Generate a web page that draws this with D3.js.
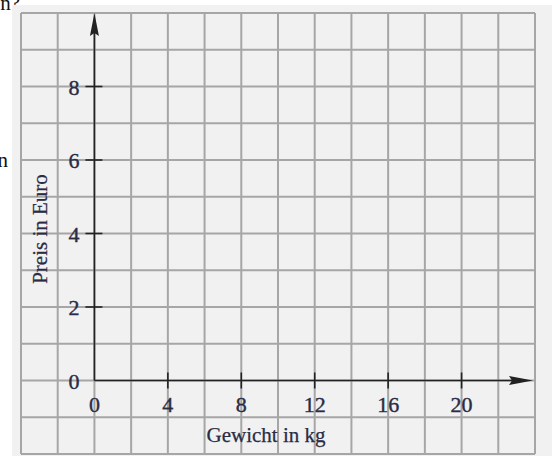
<!DOCTYPE html>
<html>
<head>
<meta charset="utf-8">
<script src="https://cdn.jsdelivr.net/npm/d3@7"></script>
<style>
html,body{margin:0;padding:0;background:#fff;}
svg{display:block;}
text{font-family:"Liberation Serif","DejaVu Serif",serif;}
</style>
</head>
<body>
<svg id="chart" width="552" height="456"></svg>
<script>
const xDomain = [-4, 24];
const yDomain = [-2, 10];
const xTicks = [0, 4, 8, 12, 16, 20];
const yTicks = [0, 2, 4, 6, 8];
const xGridStep = 2;
const yGridStep = 1;
const xTitle = "Gewicht in kg";
const yTitle = "Preis in Euro";

const svg = d3.select("#chart");
const x = d3.scaleLinear().domain(xDomain).range([21, 535]);
const y = d3.scaleLinear().domain(yDomain).range([454, 13]);

// surrounding text fragments
svg.append("text").attr("x", 20).attr("y", 10).attr("text-anchor", "end")
  .attr("font-size", 21).attr("fill", "#111").text("n?");

// panel background
svg.append("rect").attr("x", 12).attr("y", 5).attr("width", 540).attr("height", 451).attr("fill", "#f1f1f1");

svg.append("text").attr("x", 8).attr("y", 167).attr("text-anchor", "end")
  .attr("font-size", 21).attr("fill", "#111").text("n");

// grid
const gx = d3.range(xDomain[0], xDomain[1] + 0.001, xGridStep);
const gy = d3.range(yDomain[0], yDomain[1] + 0.001, yGridStep);
const grid = svg.append("g").attr("stroke", "#a6a6a6").attr("stroke-width", 2);
grid.selectAll("line.v").data(gx).join("line").attr("class", "v")
  .attr("x1", d => x(d)).attr("x2", d => x(d)).attr("y1", y(yDomain[1])).attr("y2", y(yDomain[0]));
grid.selectAll("line.h").data(gy).join("line").attr("class", "h")
  .attr("x1", x(xDomain[0])).attr("x2", x(xDomain[1])).attr("y1", d => y(d)).attr("y2", d => y(d));

const axisColor = "#222";
// axes lines
svg.append("line").attr("x1", x(0)).attr("x2", 512).attr("y1", y(0)).attr("y2", y(0))
  .attr("stroke", axisColor).attr("stroke-width", 1.6);
svg.append("line").attr("x1", x(0)).attr("x2", x(0)).attr("y1", y(0)).attr("y2", 33)
  .attr("stroke", axisColor).attr("stroke-width", 1.6);
// arrowheads
const x0 = x(0), y0 = y(0);
svg.append("path").attr("d", `M533,${y0} L509,${y0-4.5} L512,${y0} L509,${y0+4.5} Z`).attr("fill", axisColor);
svg.append("path").attr("d", `M${x0},13 L${x0-4.5},36 L${x0},33 L${x0+4.5},36 Z`).attr("fill", axisColor);

// ticks
svg.selectAll("line.xt").data(xTicks.filter(d => d !== 0)).join("line").attr("class", "xt")
  .attr("x1", d => x(d)).attr("x2", d => x(d)).attr("y1", y0 - 8).attr("y2", y0 + 8)
  .attr("stroke", axisColor).attr("stroke-width", 1.6);
svg.selectAll("line.yt").data(yTicks.filter(d => d !== 0)).join("line").attr("class", "yt")
  .attr("x1", x0 - 9).attr("x2", x0 + 8).attr("y1", d => y(d)).attr("y2", d => y(d))
  .attr("stroke", axisColor).attr("stroke-width", 1.6);

const labelColor = "#2a2c44";
svg.selectAll("text.xl").data(xTicks).join("text").attr("class", "xl")
  .attr("x", d => x(d)).attr("y", y0 + 31).attr("text-anchor", "middle")
  .attr("font-size", 22).attr("fill", labelColor).attr("stroke", labelColor).attr("stroke-width", 0.4)
  .text(d => d);
svg.selectAll("text.yl").data(yTicks).join("text").attr("class", "yl")
  .attr("x", x0 - 15).attr("y", d => y(d) + 8).attr("text-anchor", "end")
  .attr("font-size", 22).attr("fill", labelColor).attr("stroke", labelColor).attr("stroke-width", 0.4)
  .text(d => d);

// titles
svg.append("text").attr("x", 266).attr("y", 442).attr("text-anchor", "middle")
  .attr("font-size", 21).attr("fill", labelColor).attr("stroke", labelColor).attr("stroke-width", 0.25)
  .text(xTitle);
svg.append("text").attr("transform", "translate(47,229) rotate(-90)").attr("text-anchor", "middle")
  .attr("font-size", 21).attr("fill", labelColor).attr("stroke", labelColor).attr("stroke-width", 0.25)
  .text(yTitle);
</script>
</body>
</html>
